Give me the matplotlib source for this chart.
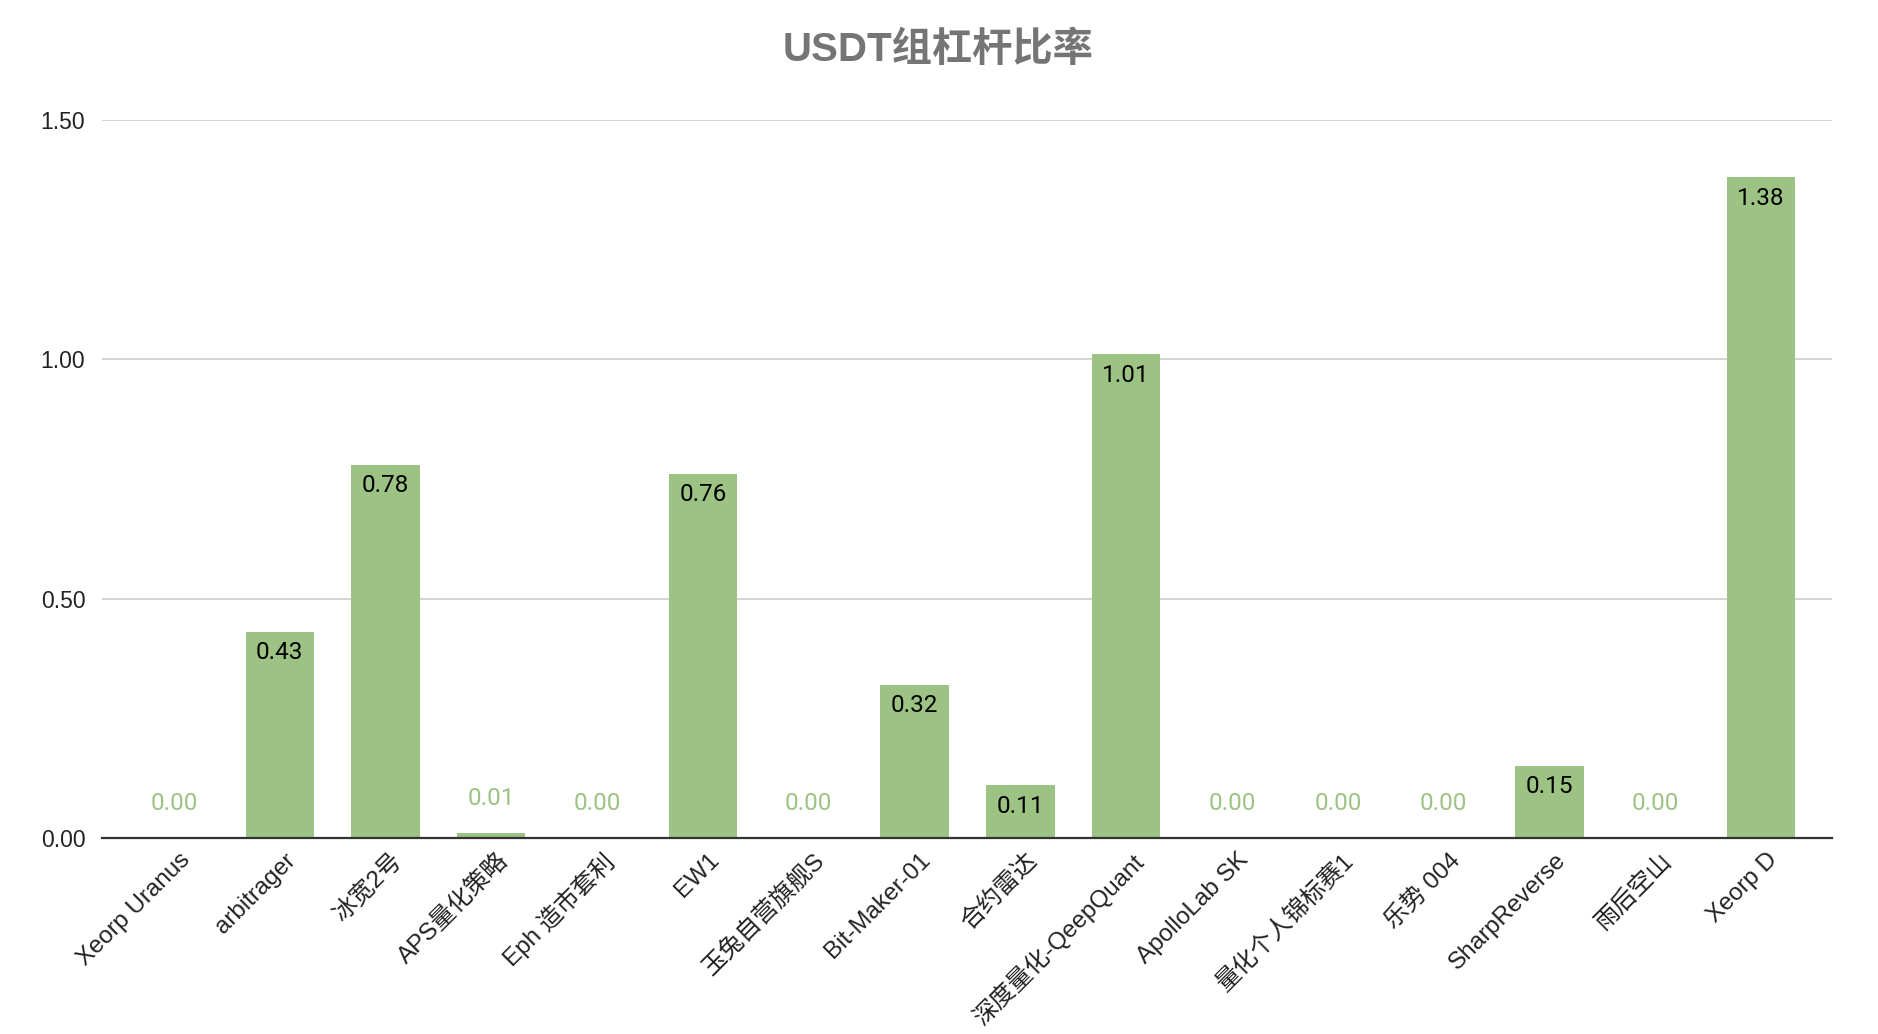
import matplotlib
matplotlib.use("Agg")
import matplotlib.pyplot as plt
from matplotlib.ticker import FormatStrFormatter

# data
names = ["Xeorp Uranus", "arbitrager", "冰宽2号", "APS量化策略", "Eph 造市套利", "EW1",
         "玉兔自营旗舰S", "Bit-Maker-01", "合约雷达", "深度量化-QeepQuant", "ApolloLab SK",
         "量化个人锦标赛1", "乐势 004", "SharpReverse", "雨后空山", "Xeorp D"]
ratio = [0.00, 0.43, 0.78, 0.01, 0.00, 0.76, 0.00, 0.32, 0.11, 1.01, 0.00, 0.00, 0.00, 0.15, 0.00, 1.38]
yticks = [0.0, 0.5, 1.0, 1.5]

fonts = ["Liberation Sans", "Noto Sans CJK SC", "DejaVu Sans"]
plt.rcParams["font.family"] = fonts
green = "#9DC384"

fig = plt.figure(figsize=(18.78, 10.34), dpi=100)
ax = fig.add_axes([0.0543, 0.1896, 0.9212, 0.6944])

x = list(range(len(names)))
bars = ax.bar(x, ratio, width=0.645, color=green, zorder=3)

for xi, v in zip(x, ratio):
    if v >= 0.1:
        ax.annotate(f"{v:.2f}", (xi, v), xytext=(0, -15), textcoords="offset points",
                    ha="center", va="center", fontsize=17.5, color="black",
                    family=["Roboto", "DejaVu Sans"], zorder=4)
    else:
        ax.annotate(f"{v:.2f}", (xi, v), xytext=(0, 25), textcoords="offset points",
                    ha="center", va="center", fontsize=17.5, color=green,
                    family=["Roboto", "DejaVu Sans"], zorder=4)

ax.set_xlim(-0.68, len(names) - 1 + 0.67)
ax.set_ylim(0, 1.5)
ax.set_yticks(yticks)
ax.yaxis.set_major_formatter(FormatStrFormatter("%.2f"))
ax.grid(axis="y", color="#cccccc", linewidth=1.2, zorder=0)
ax.set_axisbelow(True)

for s in ["top", "right", "left"]:
    ax.spines[s].set_visible(False)
ax.spines["bottom"].set_color("#333333")
ax.spines["bottom"].set_linewidth(1.6)
ax.spines["bottom"].set_zorder(5)

ax.tick_params(axis="y", length=0, pad=12, labelsize=16.5, labelcolor="#222222")
ax.tick_params(axis="x", length=0, pad=8)
ax.set_xticks(x)
ax.set_xticklabels(names, rotation=45, ha="right", va="top", rotation_mode="anchor",
                   fontsize=17.5, color="#222222")
for lbl in ax.get_xticklabels():
    lbl.set_transform(lbl.get_transform() + matplotlib.transforms.ScaledTranslation(0.05, 0, fig.dpi_scale_trans))

fig.text(0.4995, 0.952, "USDT组杠杆比率", ha="center", va="center", fontsize=29,
         fontweight="bold", color="#757575", family=fonts)

fig.savefig("out.png", dpi=100)
